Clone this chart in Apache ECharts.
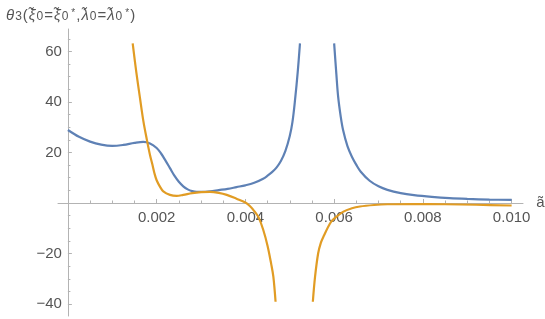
<!DOCTYPE html>
<html>
<head>
<meta charset="utf-8">
<script src="https://cdn.jsdelivr.net/npm/echarts@6/dist/echarts.min.js"></script>
<style>html,body{margin:0;padding:0;background:#fff}#c{width:545px;height:319px}</style>
</head>
<body>
<div id="c"></div>
<script>
// ---- data ----
var xMajorTicks = [0.002, 0.004, 0.006, 0.008, 0.010];
var xMinorTicks = [0.0005, 0.001, 0.0015, 0.0025, 0.003, 0.0035, 0.0045, 0.005, 0.0055, 0.0065, 0.007, 0.0075, 0.0085, 0.009, 0.0095];
var yMajorTicks = [-40, -20, 20, 40, 60];
var yMinorTicks = [-35, -30, -25, -15, -10, -5, 5, 10, 15, 25, 30, 35, 45, 50, 55, 65];

var blueLeft = [
  [0, 28.9], [0.00025, 26.2], [0.0005, 24.3], [0.00075, 23.1], [0.001, 22.6],
  [0.00125, 23.0], [0.0015, 23.8], [0.0017, 24.2], [0.00185, 23.6], [0.002, 21.8],
  [0.0021, 19.6], [0.0022, 16.8], [0.0023, 13.8], [0.0024, 10.8], [0.0025, 8.4],
  [0.0026, 6.6], [0.0027, 5.4], [0.0028, 4.7], [0.0029, 4.4], [0.003, 4.4],
  [0.0032, 4.6], [0.0034, 5.1], [0.0036, 5.6], [0.0038, 6.3], [0.004, 7.0],
  [0.0042, 8.0], [0.0044, 9.6], [0.0045, 10.8], [0.0046, 12.2], [0.0047, 14.0],
  [0.0048, 16.6], [0.0049, 20.5], [0.005, 26.5], [0.00506, 32], [0.00512, 41],
  [0.00518, 52], [0.00523, 63.2]
];
var blueRight = [
  [0.006, 63.2], [0.00605, 51], [0.00609, 42.1], [0.00615, 34], [0.0062, 29],
  [0.0063, 22.5], [0.0064, 18.3], [0.0065, 15.1], [0.0066, 12.4], [0.0068, 8.8], [0.007, 6.6],
  [0.0072, 5.2], [0.0075, 3.9], [0.0078, 3.1], [0.0082, 2.4], [0.0086, 1.9],
  [0.009, 1.6], [0.0095, 1.35], [0.01, 1.2]
];
var orangeLeft = [
  [0.00146, 63.2], [0.00154, 52], [0.00162, 42.1], [0.0017, 32.5], [0.00178, 25],
  [0.00185, 19], [0.0019, 15.5], [0.00195, 11.8], [0.002, 9.0], [0.00208, 6.3],
  [0.00215, 4.6], [0.0023, 3.2], [0.00245, 2.8], [0.0026, 3.2], [0.0028, 3.9],
  [0.003, 4.3], [0.0032, 4.4], [0.0034, 4.0], [0.00358, 3.2], [0.0038, 1.7],
  [0.004, 0.2], [0.0041, -1.2], [0.0042, -3.2], [0.0043, -5.8], [0.0044, -10.5],
  [0.0045, -17], [0.00458, -24], [0.00463, -29.2], [0.00468, -39.1]
];
var orangeRight = [
  [0.00552, -39.1], [0.00557, -29.2], [0.00564, -19.9], [0.0057, -15.8], [0.00576, -13.3],
  [0.00591, -8.0], [0.006, -6.2], [0.00621, -3.4], [0.0064, -2.1], [0.00658, -1.4],
  [0.0069, -0.8], [0.0072, -0.5], [0.0078, -0.4], [0.0085, -0.5], [0.0092, -0.7],
  [0.01, -1.0]
];

var BLUE = '#5E81B5', ORANGE = '#E19C24';
var AXIS = '#b3b3b3', LABEL = '#555555';
var FONT = 'Liberation Sans';

// plot frame
var GL = 58, GT = 29, GW = 465, GH = 287;
var XMIN = -0.000223, XMAX = 0.010256, YMIN = -44.75, YMAX = 68.9;
// axis offsets so that the axes cross at the origin
var xAxisOffset = -(0 - YMIN) / (YMAX - YMIN) * GH;
var yAxisOffset = -(0 - XMIN) / (XMAX - XMIN) * GW;

function minus(v) { return String(v).replace('-', '\u2212'); }

var chart = echarts.init(document.getElementById('c'), null, {renderer: 'canvas'});
var xBase = {
  type: 'value', min: XMIN, max: XMAX, position: 'bottom', offset: xAxisOffset,
  splitLine: {show: false}
};
var yBase = {
  type: 'value', min: YMIN, max: YMAX, position: 'left', offset: yAxisOffset,
  splitLine: {show: false}
};
function line(data, color) {
  return {
    type: 'line', data: data, showSymbol: false, symbol: 'none', smooth: 0.35,
    xAxisIndex: 0, yAxisIndex: 0, animation: false,
    lineStyle: {color: color, width: 2.2}, itemStyle: {color: color}
  };
}
chart.setOption({
  animation: false,
  title: {
    left: 1, top: 3,
    text: '{i|θ}{s|3}{n|(}{i|ξ̃}{s|0}{n|=}{i|ξ̃}{s|0}{p|*}{n|,}{i|λ̃}{s|0}{n|=}{i|λ̃}{s|0}{p|*}{n|)}',
    textStyle: {
      fontFamily: FONT, color: LABEL, fontWeight: 'normal',
      rich: {
        i: {fontSize: 15, fontStyle: 'italic', fontFamily: FONT, color: LABEL, padding: [0, 1, 0, 0]},
        n: {fontSize: 15, fontFamily: FONT, color: LABEL, padding: [0, 1, 0, 0]},
        s: {fontSize: 12, fontFamily: FONT, color: LABEL, verticalAlign: 'bottom', padding: [3, 1, 0, 0]},
        p: {fontSize: 10, fontFamily: FONT, color: LABEL, verticalAlign: 'top', padding: [0, 1, 4, 2]}
      }
    }
  },
  grid: {left: GL, top: GT, width: GW, height: GH, containLabel: false, outerBoundsMode: 'none'},
  xAxis: [
    Object.assign({}, xBase, {
      name: 'ã', nameLocation: 'end', nameGap: 12,
      nameTextStyle: {fontFamily: FONT, fontSize: 15, color: LABEL, padding: [4, 0, 0, 0]},
      axisLine: {show: true, onZero: false, lineStyle: {color: AXIS, width: 1}},
      axisTick: {show: true, inside: true, length: 4, customValues: xMajorTicks, lineStyle: {color: AXIS}},
      axisLabel: {show: true, customValues: xMajorTicks, margin: 7, color: LABEL, fontFamily: FONT, fontSize: 15,
        formatter: function (v) { return v.toFixed(3); }}
    }),
    Object.assign({}, xBase, {
      axisLine: {show: false, onZero: false},
      axisTick: {show: true, inside: true, length: 2.5, customValues: xMinorTicks, lineStyle: {color: AXIS}},
      axisLabel: {show: false}
    })
  ],
  yAxis: [
    Object.assign({}, yBase, {
      axisLine: {show: true, onZero: false, lineStyle: {color: AXIS, width: 1}},
      axisTick: {show: true, inside: true, length: 4, customValues: yMajorTicks, lineStyle: {color: AXIS}},
      axisLabel: {show: true, customValues: yMajorTicks, margin: 6, color: LABEL, fontFamily: FONT, fontSize: 15,
        formatter: function (v) { return minus(v); }}
    }),
    Object.assign({}, yBase, {
      axisLine: {show: false, onZero: false},
      axisTick: {show: true, inside: true, length: 2.5, customValues: yMinorTicks, lineStyle: {color: AXIS}},
      axisLabel: {show: false}
    })
  ],
  series: [
    line(blueLeft, BLUE),
    line(blueRight, BLUE),
    line(orangeLeft, ORANGE),
    line(orangeRight, ORANGE)
  ]
});
</script>
</body>
</html>
